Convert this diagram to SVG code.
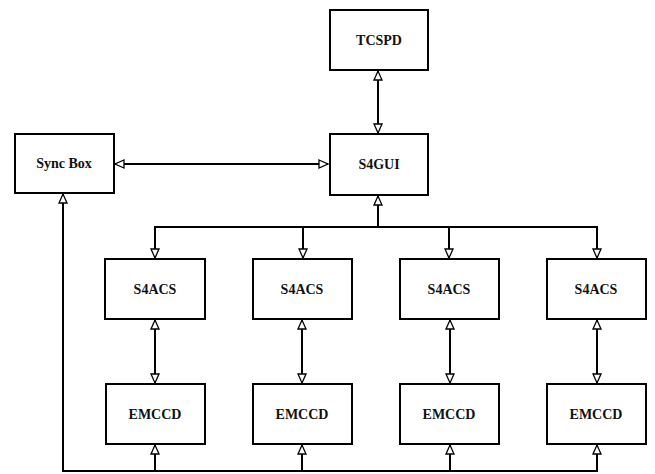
<svg xmlns="http://www.w3.org/2000/svg" width="655" height="474" viewBox="0 0 655 474">
<defs>
<marker id="ah" markerUnits="userSpaceOnUse" markerWidth="12" markerHeight="10" refX="10" refY="5" orient="auto-start-reverse" viewBox="0 0 12 10">
<path d="M1,1 L10,5 L1,9 Z" fill="#fff" stroke="#000" stroke-width="1.3"/>
</marker>
</defs>
<style>
.box{fill:#fff;stroke:#000;stroke-width:2}
.lbl{font-family:"Liberation Serif","Times New Roman",serif;font-weight:bold;font-size:14px;fill:#111;text-anchor:middle;dominant-baseline:central}
.c{fill:none;stroke:#000;stroke-width:2}
</style>
<rect width="655" height="474" fill="#fff"/>
<g id="connectors">
<line class="c" x1="378" y1="71" x2="378" y2="133" marker-start="url(#ah)" marker-end="url(#ah)"/>
<line class="c" x1="115" y1="164" x2="328" y2="164" marker-start="url(#ah)" marker-end="url(#ah)"/>
<line class="c" x1="378" y1="227" x2="378" y2="196" marker-end="url(#ah)"/>
<polyline class="c" points="155,258 155,227 597,227 597,258" marker-start="url(#ah)" marker-end="url(#ah)"/>
<line class="c" x1="303" y1="227" x2="303" y2="258" marker-end="url(#ah)"/>
<line class="c" x1="449" y1="227" x2="449" y2="258" marker-end="url(#ah)"/>
<line class="c" x1="155" y1="320" x2="155" y2="383" marker-start="url(#ah)" marker-end="url(#ah)"/>
<line class="c" x1="302" y1="320" x2="302" y2="383" marker-start="url(#ah)" marker-end="url(#ah)"/>
<line class="c" x1="450" y1="320" x2="450" y2="383" marker-start="url(#ah)" marker-end="url(#ah)"/>
<line class="c" x1="597" y1="320" x2="597" y2="383" marker-start="url(#ah)" marker-end="url(#ah)"/>
<polyline class="c" points="597,445 597,471 63,471 63,194" marker-start="url(#ah)" marker-end="url(#ah)"/>
<line class="c" x1="155" y1="471" x2="155" y2="445" marker-end="url(#ah)"/>
<line class="c" x1="302" y1="471" x2="302" y2="445" marker-end="url(#ah)"/>
<line class="c" x1="450" y1="471" x2="450" y2="445" marker-end="url(#ah)"/>
</g>
<g id="tcspd"><rect class="box" x="330" y="10" width="98" height="60"/><text class="lbl" x="379" y="40">TCSPD</text></g>
<g id="s4gui"><rect class="box" x="330" y="134" width="98" height="61"/><text class="lbl" x="379" y="164">S4GUI</text></g>
<g id="syncbox"><rect class="box" x="15" y="134" width="99" height="59"/><text class="lbl" x="64" y="163">Sync Box</text></g>
<g id="s4acs1"><rect class="box" x="105" y="259" width="100" height="60"/><text class="lbl" x="155" y="289">S4ACS</text></g>
<g id="s4acs2"><rect class="box" x="253" y="259" width="99" height="60"/><text class="lbl" x="302" y="289">S4ACS</text></g>
<g id="s4acs3"><rect class="box" x="400" y="259" width="99" height="60"/><text class="lbl" x="449" y="289">S4ACS</text></g>
<g id="s4acs4"><rect class="box" x="547" y="259" width="99" height="60"/><text class="lbl" x="596" y="289">S4ACS</text></g>
<g id="emccd1"><rect class="box" x="106" y="384" width="99" height="60"/><text class="lbl" x="155" y="414">EMCCD</text></g>
<g id="emccd2"><rect class="box" x="253" y="384" width="99" height="60"/><text class="lbl" x="302" y="414">EMCCD</text></g>
<g id="emccd3"><rect class="box" x="400" y="384" width="99" height="60"/><text class="lbl" x="449" y="414">EMCCD</text></g>
<g id="emccd4"><rect class="box" x="547" y="384" width="99" height="60"/><text class="lbl" x="596" y="414">EMCCD</text></g>
</svg>
